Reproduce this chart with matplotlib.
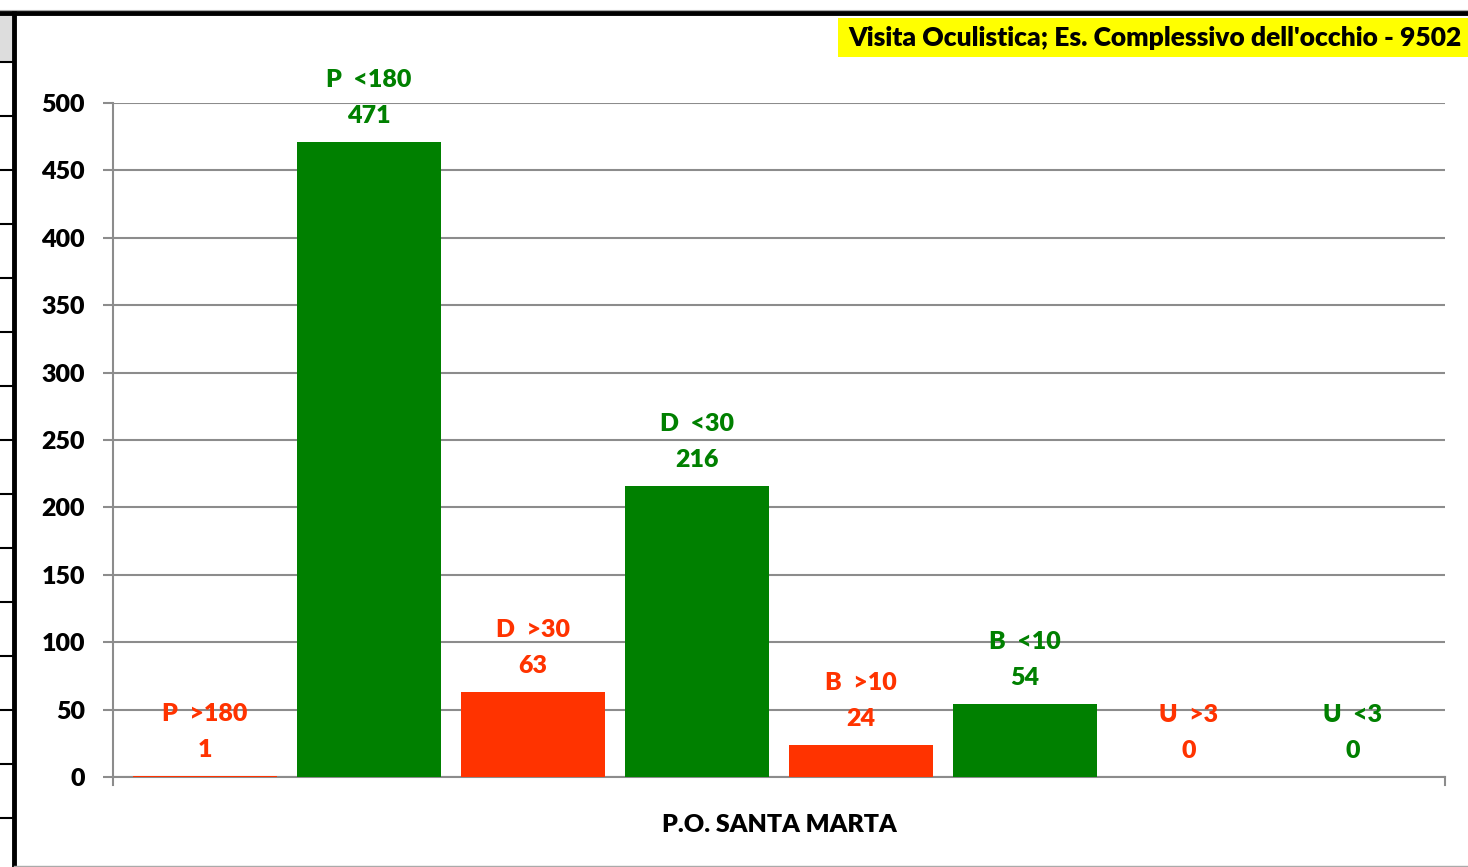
import matplotlib
matplotlib.use('Agg')
import matplotlib.pyplot as plt
from matplotlib.lines import Line2D
from matplotlib.patches import Rectangle
import numpy as np

# --- data ---
labels = ["P  >180", "P  <180", "D  >30", "D  <30", "B  >10", "B  <10", "U  >3", "U  <3"]
values = [1, 471, 63, 216, 24, 54, 0, 0]
category = "P.O. SANTA MARTA"
title = "Visita Oculistica; Es. Complessivo dell'occhio - 9502"

C_RED = "#FF3300"
C_GREEN = "#008000"
colors = [C_RED, C_GREEN] * 4
WEIGHT = "heavy"

W, H = 1468, 867
plt.rcParams['font.family'] = ['Lato', 'DejaVu Sans']

fig = plt.figure(figsize=(W / 100, H / 100), dpi=100)
ax = fig.add_axes([113 / W, 1 - 777 / H, (1445 - 113) / W, (777 - 103) / H])

x = np.arange(len(values))
ax.bar(x, values, width=0.872, color=colors, zorder=3)

px_per_unit = (777 - 103) / 500
for i, (lab, v) in enumerate(zip(labels, values)):
    ax.text(i, v + 26 / px_per_unit, str(v), ha="center", va="center",
            fontsize=18, fontweight=WEIGHT, color=colors[i], zorder=4, clip_on=False)
    ax.text(i, v + 62 / px_per_unit, lab, ha="center", va="center",
            fontsize=18, fontweight=WEIGHT, color=colors[i], zorder=4, clip_on=False)

ax.set_xlim(-0.5 - 10 / 164, 7.5 + 10 / 164)
ax.set_ylim(0, 500)
ax.set_yticks(np.arange(0, 501, 50))
ax.yaxis.grid(True, color="#8c8c8c", linewidth=1.5, zorder=0)
ax.set_xticks([])
for s in ["top", "right"]:
    ax.spines[s].set_visible(False)
ax.spines["left"].set_color("#8c8c8c")
ax.spines["left"].set_linewidth(1.5)
ax.spines["bottom"].set_color("#8c8c8c")
ax.spines["bottom"].set_linewidth(1.5)
ax.spines["left"].set_bounds(-8 / px_per_unit, 500)
ax.tick_params(axis="y", length=7.2, width=1.5, color="#8c8c8c", pad=13,
               labelsize=18, labelcolor="black")
for t in ax.get_yticklabels():
    t.set_fontweight(WEIGHT)
# right end tick of category axis
ax.plot([7.5 + 10 / 164] * 2, [0, -8 / px_per_unit], color="#8c8c8c",
        linewidth=1.5, clip_on=False)

fig.text(779 / W, 1 - 825 / H, category, ha="center", va="center",
         fontsize=18, fontweight=WEIGHT, color="black")

# title box
fig.add_artist(Rectangle((838 / W, 1 - 57 / H), (W - 838) / W, 39 / H,
                         transform=fig.transFigure, facecolor="yellow", edgecolor="none"))
fig.text(848 / W, 1 - 38 / H, title, ha="left", va="center",
         fontsize=19, fontweight=WEIGHT, color="black")

# sheet border decorations
fig.add_artist(Line2D([0, 1], [1 - 13 / H] * 2, transform=fig.transFigure,
                      color="black", linewidth=3.5))
fig.add_artist(Line2D([14 / W] * 2, [0, 1 - 13 / H], transform=fig.transFigure,
                      color="black", linewidth=3.5))
fig.add_artist(Line2D([0, 1], [1 - 9.5 / H] * 2, transform=fig.transFigure,
                      color="#aaaaaa", linewidth=0.8))
fig.add_artist(Line2D([14 / W, 1], [1 - 866 / H] * 2, transform=fig.transFigure,
                      color="#aaaaaa", linewidth=1))
fig.add_artist(Rectangle((0, 1 - 62 / H), 12 / W, 48 / H, transform=fig.transFigure,
                         facecolor="#dddddd", edgecolor="none"))
for k in range(15):
    yy = 1 - (62 + 54 * k) / H
    fig.add_artist(Line2D([0, 14 / W], [yy, yy], transform=fig.transFigure,
                          color="black", linewidth=1.5))

fig.savefig("out.png", dpi=100)
